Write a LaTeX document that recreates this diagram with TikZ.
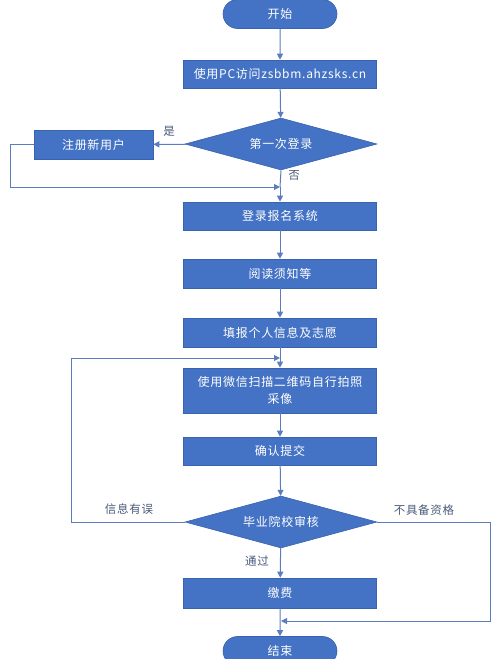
\documentclass[tikz,border=0pt]{standalone}
\usepackage{fontspec}
\newfontfamily\cjk[LetterSpace=6]{Noto Sans CJK SC}
\usetikzlibrary{shapes.geometric,shapes.misc,arrows.meta}
\definecolor{boxblue}{HTML}{4472C4}
\definecolor{edgeblue}{HTML}{3A63AE}
\definecolor{lineblue}{HTML}{5B7DBE}
\definecolor{labelgray}{HTML}{4A5A78}
\tikzset{
  procbox/.style={rectangle, fill=boxblue, draw=edgeblue, line width=0.6pt, minimum width=193pt, text=white, font=\cjk\fontsize{12}{17}\selectfont, align=center, inner sep=0pt},
  termbox/.style={rounded rectangle, fill=boxblue, draw=edgeblue, line width=0.6pt, minimum width=114pt, minimum height=29pt, text=white, font=\cjk\fontsize{12}{15}\selectfont, inner sep=0pt},
  decbox/.style={diamond, fill=boxblue, draw=edgeblue, line width=0.6pt, aspect=3.7, minimum width=192pt, minimum height=52pt, text=white, font=\cjk\fontsize{12}{15}\selectfont, inner sep=0pt},
  conn/.style={draw=lineblue, line width=1pt, -{Triangle[length=6pt,width=6pt]}},
  plain/.style={draw=lineblue, line width=1pt},
  lbl/.style={text=labelgray, font=\cjk\fontsize{11.5}{13}\selectfont, inner sep=0pt}
}
\begin{document}
\begin{tikzpicture}[x=1pt,y=-1pt]
\useasboundingbox (0,0) rectangle (500,659);
\node[termbox] (start) at (280,14) {开始};
\node[procbox, minimum height=28pt] (visit) at (280,74) {使用PC访问zsbbm.ahzsks.cn};
\node[decbox] (first) at (281,144) {第一次登录};
\node[procbox, minimum width=119pt, minimum height=29pt] (reg) at (93.5,144.5) {注册新用户};
\node[procbox, minimum height=28pt] (login) at (280,216) {登录报名系统};
\node[procbox, minimum height=29pt] (read) at (280,273.5) {阅读须知等};
\node[procbox, minimum height=29pt] (fill) at (280,332.5) {填报个人信息及志愿};
\node[procbox, minimum height=45pt] (photo) at (280,390.5) {使用微信扫描二维码自行拍照\\采像};
\node[procbox, minimum height=28pt] (confirm) at (280,451) {确认提交};
\node[decbox] (check) at (281,522) {毕业院校审核};
\node[procbox, minimum height=30pt] (pay) at (280,593) {缴费};
\node[termbox] (end) at (280,651) {结束};

\coordinate (j1) at (280,187);
\coordinate (j2) at (280,358);
\coordinate (j3) at (281,621);

\draw[conn] (start) -- (visit);
\draw[conn] (visit) -- (first);
\draw[conn] (first) -- (reg);
\draw[plain] (first.south) -- (j1);
\draw[conn] (reg.west) -- (10,144.5) -- (10,187) -- (j1);
\draw[conn] (j1) -- (login);
\draw[conn] (login) -- (read);
\draw[conn] (read) -- (fill);
\draw[plain] (fill.south) -- (j2);
\draw[conn] (j2) -- (photo);
\draw[conn] (photo) -- (confirm);
\draw[conn] (confirm) -- (check);
\draw[conn] (check.west) -- (71,522) -- (71,358) -- (j2);
\draw[conn] (check) -- (pay);
\draw[conn] (check.east) -- (490,522) -- (490,621) -- (j3);
\draw[conn] (pay.south) -- (end);

\node[lbl] (yes) at (169,131) {是};
\node[lbl] (no) at (294,175) {否};
\node[lbl] (err) at (129,509) {信息有误};
\node[lbl] (noq) at (424,510) {不具备资格};
\node[lbl] (pass) at (257,561) {通过};
\end{tikzpicture}
\end{document}
